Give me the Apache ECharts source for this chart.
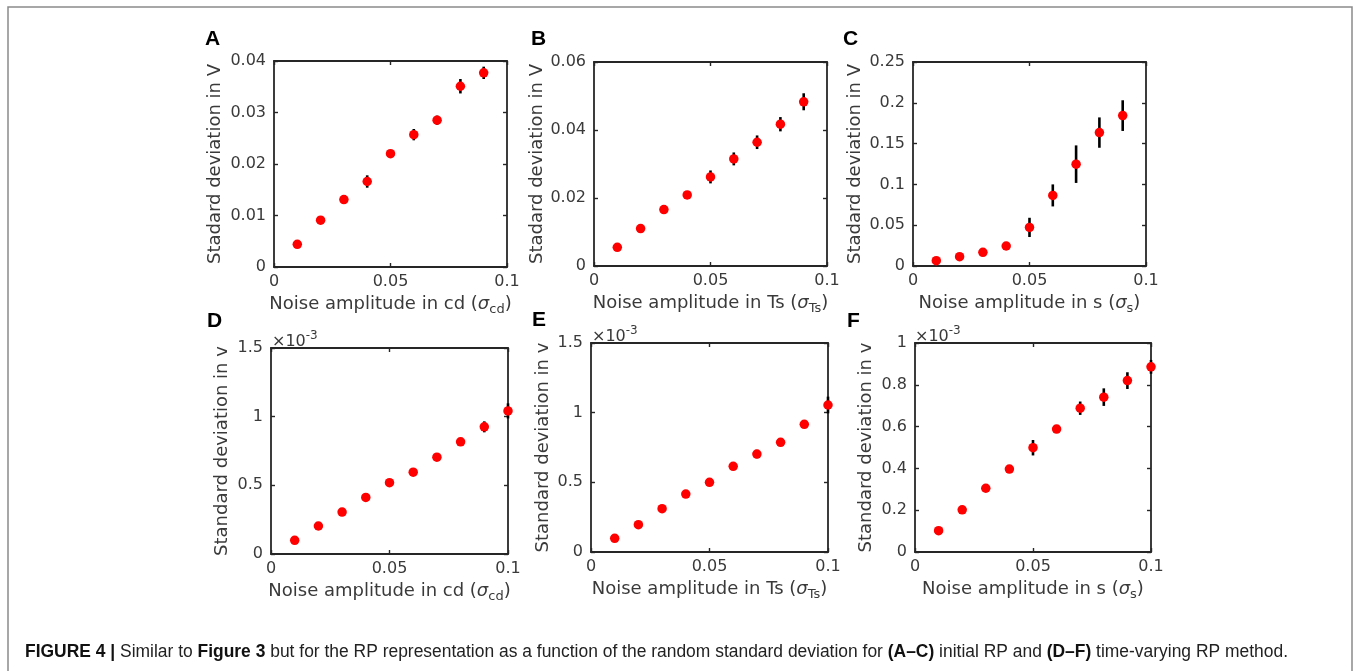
<!DOCTYPE html>
<html>
<head>
<meta charset="utf-8">
<script src="https://cdn.jsdelivr.net/npm/echarts@6/dist/echarts.min.js"></script>
<style>
html,body{margin:0;padding:0;background:#fff;}
#chart{width:1354px;height:671px;}
</style>
</head>
<body>
<div id="chart"></div>
<script>
// ---------------- DATA ----------------
const xA = [0.01,0.02,0.03,0.04,0.05,0.06,0.07,0.08,0.09];
const xD = [0.01,0.02,0.03,0.04,0.05,0.06,0.07,0.08,0.09,0.10];

const valsA = [0.0044,0.0091,0.0131,0.0166,0.0220,0.0257,0.0285,0.0351,0.0377];
const errA  = [0.0002,0.0003,0.0003,0.0012,0.0003,0.0011,0.0009,0.0014,0.0012];

const valsB = [0.0055,0.0110,0.0166,0.0209,0.0262,0.0315,0.0364,0.0417,0.0483];
const errB  = [0.0003,0.0007,0.0004,0.0004,0.0019,0.0019,0.0020,0.0021,0.0025];

const valsC = [0.0065,0.0114,0.0167,0.0245,0.0473,0.0865,0.1248,0.1635,0.1843];
const errC  = [0.0010,0.0010,0.0015,0.0020,0.0118,0.0135,0.0230,0.0186,0.0188];

// D-F values in units of 1e-3 (axis shows ×10^-3)
const valsD = [0.100,0.204,0.305,0.412,0.519,0.596,0.705,0.817,0.926,1.042];
const errD  = [0.005,0.005,0.005,0.008,0.008,0.010,0.022,0.012,0.040,0.055];

const valsE = [0.098,0.196,0.311,0.416,0.500,0.615,0.703,0.787,0.916,1.055];
const errE  = [0.005,0.005,0.006,0.006,0.008,0.008,0.030,0.010,0.025,0.060];

const valsF = [0.102,0.202,0.305,0.397,0.499,0.588,0.688,0.741,0.820,0.886];
const errF  = [0.004,0.005,0.005,0.006,0.037,0.008,0.032,0.042,0.040,0.033];

const yMax = [0.04,0.06,0.25,1.5,1.5,1];
const yStep = [0.01,0.02,0.05,0.5,0.5,0.2];
const xTickStep = 0.05;

const letters = ['A','B','C','D','E','F'];
const xNames = [['cd','cd'],['Ts','Ts'],['s','s'],['cd','cd'],['Ts','Ts'],['s','s']];
const yNames = ['Stadard deviation in V','Stadard deviation in V','Stadard deviation in V',
                'Standard deviation in v','Standard deviation in v','Standard deviation in v'];

// ---------------- LAYOUT ----------------
const grids = [
  {left:274, top:61, width:233, height:206},
  {left:594, top:62, width:233, height:204},
  {left:913, top:62, width:233, height:204},
  {left:271, top:348, width:237, height:206},
  {left:591, top:343, width:237, height:209},
  {left:915, top:343, width:236, height:209}
];
const yNameGap = [50,47,49,40,39,40];
const letterPos = [[205,29],[531,29],[843,29],[207,311],[532,310],[847,311]];
const expPos = [[272,329],[592,324],[915,324]];

const panels = [
  {x:xA, v:valsA, e:errA},
  {x:xA, v:valsB, e:errB},
  {x:xA, v:valsC, e:errC},
  {x:xD, v:valsD, e:errD},
  {x:xD, v:valsE, e:errE},
  {x:xD, v:valsF, e:errF}
];

const FONT = 'DejaVu Sans';
const AX = '#262626';
const TXT = '#3a3a3a';
const NAMESIZE = 18;

const xAxis = [], yAxis = [], series = [];
const axLine = {show:true, onZero:false, lineStyle:{color:AX, width:1.8}};
const axTick = {show:true, inside:true, length:4, lineStyle:{color:AX, width:1.4}};

panels.forEach((p, i) => {
  const sub = xNames[i];
  const xname = '{n|Noise amplitude in ' + sub[0] + ' (}{g|σ}{s|' + sub[1] + '}{n|)}';
  xAxis.push({
    gridIndex:i, type:'value', min:0, max:0.1, interval:xTickStep, position:'bottom',
    axisLine:axLine, axisTick:axTick, splitLine:{show:false},
    axisLabel:{color:TXT, fontFamily:FONT, fontSize:16, margin:7,
      formatter: v => String(+v.toFixed(3))},
    name:xname, nameLocation:'middle', nameGap:25,
    nameTextStyle:{color:TXT, fontFamily:FONT, fontSize:NAMESIZE,
      rich:{
        n:{fontSize:NAMESIZE, fontFamily:FONT, color:TXT},
        g:{fontSize:NAMESIZE, fontFamily:FONT, color:TXT, fontStyle:'italic'},
        s:{fontSize:13, fontFamily:FONT, color:TXT, padding:[11,0,0,0]}
      }}
  });
  xAxis.push({
    gridIndex:i, type:'value', min:0, max:0.1, interval:xTickStep, position:'top',
    axisLine:axLine, axisTick:axTick, splitLine:{show:false}, axisLabel:{show:false}
  });
  yAxis.push({
    gridIndex:i, type:'value', min:0, max:yMax[i], interval:yStep[i], position:'left',
    axisLine:axLine, axisTick:axTick, splitLine:{show:false},
    axisLabel:{color:TXT, fontFamily:FONT, fontSize:16, margin:8,
      formatter: v => String(+v.toFixed(4))},
    name:yNames[i], nameLocation:'middle', nameGap:yNameGap[i], nameRotate:90,
    nameTextStyle:{color:TXT, fontFamily:FONT, fontSize:NAMESIZE}
  });
  yAxis.push({
    gridIndex:i, type:'value', min:0, max:yMax[i], interval:yStep[i], position:'right',
    axisLine:axLine, axisTick:axTick, splitLine:{show:false}, axisLabel:{show:false}
  });
  const errData = p.x.map((x, k) => [x, p.v[k] - p.e[k], p.v[k] + p.e[k]]);
  const ptData = p.x.map((x, k) => [x, p.v[k]]);
  series.push({
    type:'custom', xAxisIndex:2*i, yAxisIndex:2*i, data:errData, z:2, clip:false,
    encode:{x:0, y:[1,2]},
    renderItem:(params, api) => {
      const a = api.coord([api.value(0), api.value(1)]);
      const b = api.coord([api.value(0), api.value(2)]);
      return {type:'line', shape:{x1:a[0], y1:a[1], x2:b[0], y2:b[1]},
              style:{stroke:'#000', lineWidth:2.6}};
    },
    silent:true
  });
  series.push({
    type:'scatter', xAxisIndex:2*i, yAxisIndex:2*i, data:ptData, z:3, clip:false,
    symbol:'circle', symbolSize:9.5, itemStyle:{color:'#ff0000', opacity:1},
    silent:true
  });
});

// ---------------- GRAPHICS (labels, caption, frame) ----------------
const graphic = [];
graphic.push({type:'rect', shape:{x:8, y:7, width:1344, height:720},
  style:{fill:'none', stroke:'#8a8a8a', lineWidth:1.5}, silent:true});
letters.forEach((L, i) => {
  graphic.push({type:'text', x:letterPos[i][0], y:letterPos[i][1],
    style:{text:L, fontFamily:'Liberation Sans', fontWeight:'bold', fontSize:21, fill:'#000'}});
});
expPos.forEach(pp => {
  graphic.push({type:'text', x:pp[0], y:pp[1],
    style:{text:'{a|×10}{b|-3}', fontFamily:FONT, fill:TXT,
      rich:{a:{fontSize:16, fontFamily:FONT, fill:TXT, color:TXT, padding:[5,0,0,0]},
            b:{fontSize:12, fontFamily:FONT, fill:TXT, color:TXT, padding:[0,0,7,0]}}}});
});

// caption
const capParts = [
  ['b','FIGURE 4 | '],['r','Similar to '],['b','Figure 3'],
  ['r',' but for the RP representation as a function of the random standard deviation for '],
  ['b','(A–C)'],['r',' initial RP and '],['b','(D–F)'],['r',' time-varying RP method.']
];
const capFont = 'Liberation Sans';
const capSize = 17.5;
const cv = document.createElement('canvas').getContext('2d');
let capW = 0;
capParts.forEach(([t, s]) => {
  cv.font = (t === 'b' ? 'bold ' : '') + capSize + 'px "' + capFont + '"';
  capW += cv.measureText(s).width;
});
const capTarget = 1263;
const capScale = capTarget / capW;
graphic.push({type:'text', x:25, y:643, scaleX:capScale, scaleY:1,
  style:{text: capParts.map(([t, s]) => '{' + t + '|' + s + '}').join(''),
    rich:{b:{fontFamily:capFont, fontWeight:'bold', fontSize:capSize, color:'#111', fill:'#111'},
          r:{fontFamily:capFont, fontSize:capSize, color:'#222', fill:'#222'}}}});

const chart = echarts.init(document.getElementById('chart'), null, {renderer:'canvas'});
chart.setOption({
  animation:false,
  backgroundColor:'#fff',
  grid: grids.map(g => Object.assign({containLabel:false}, g)),
  xAxis, yAxis, series, graphic
});
</script>
</body>
</html>
